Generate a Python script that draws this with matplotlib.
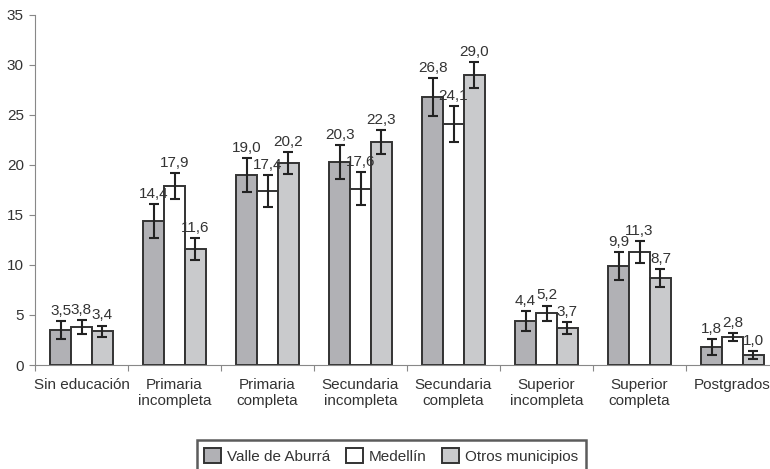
import matplotlib
matplotlib.use("Agg")
from matplotlib import pyplot as plt
import numpy as np

plt.rcParams['font.family'] = ['Liberation Sans', 'DejaVu Sans']
plt.rcParams['font.size'] = 11
plt.rcParams['text.color'] = '#333333'

categorias = ["Sin educación", "Primaria\nincompleta", "Primaria\ncompleta",
              "Secundaria\nincompleta", "Secundaria\ncompleta", "Superior\nincompleta",
              "Superior\ncompleta", "Postgrados"]

valle = [3.5, 14.4, 19.0, 20.3, 26.8, 4.4, 9.9, 1.8]
medellin = [3.8, 17.9, 17.4, 17.6, 24.1, 5.2, 11.3, 2.8]
otros = [3.4, 11.6, 20.2, 22.3, 29.0, 3.7, 8.7, 1.0]

err_valle = [0.9, 1.7, 1.7, 1.7, 1.9, 1.0, 1.4, 0.8]
err_medellin = [0.7, 1.3, 1.6, 1.65, 1.8, 0.75, 1.1, 0.4]
err_otros = [0.55, 1.05, 1.1, 1.2, 1.3, 0.6, 0.9, 0.37]

series = [
    ("Valle de Aburrá", valle, err_valle, "#b1b1b5"),
    ("Medellín", medellin, err_medellin, "#ffffff"),
    ("Otros municipios", otros, err_otros, "#c9cacc"),
]

fig = plt.figure(figsize=(7.7, 4.69), dpi=100)
ax = fig.add_axes([35 / 770, 104 / 469, 744 / 770, 350 / 469])

x = np.arange(len(categorias))
w = 0.225

for i, (nombre, vals, errs, color) in enumerate(series):
    pos = x + (i - 1) * w
    ax.bar(pos, vals, w, color=color, edgecolor="#333333", linewidth=1.4, label=nombre, zorder=2)
    ax.errorbar(pos, vals, yerr=errs, fmt="none", ecolor="#222222", elinewidth=1.5,
                capsize=3.5, capthick=1.5, zorder=3)
    for px, v, e in zip(pos, vals, errs):
        ax.annotate(f"{v:.1f}".replace(".", ","), (px, v + e), xytext=(0, 2.5),
                    textcoords="offset points", ha="center", va="bottom", color="#333333")

ax.set_xlim(-0.5, len(categorias) - 0.5)
ax.set_ylim(0, 35)
ax.set_yticks(range(0, 36, 5))

ax.set_xticks(np.arange(len(categorias) + 1) - 0.5)
ax.set_xticklabels([])
ax.set_xticks(x, minor=True)
ax.set_xticklabels(categorias, minor=True)
ax.tick_params(axis="x", which="major", length=4, color="#888888")
ax.tick_params(axis="x", which="minor", length=0, pad=9, colors="#333333")
ax.tick_params(axis="y", length=4, pad=4, color="#888888", labelcolor="#333333")

for s in ["top", "right"]:
    ax.spines[s].set_visible(False)
ax.spines["left"].set_color("#888888")
ax.spines["bottom"].set_color("#888888")

leg = fig.legend(loc="center", bbox_to_anchor=(0.508, 0.028), ncol=3, fancybox=False,
                 edgecolor="#333333", handlelength=1.1, handleheight=1.1,
                 handletextpad=0.4, columnspacing=1.0, borderpad=0.5)
leg.get_frame().set_linewidth(1.8)

fig.savefig("out.png", dpi=100)
